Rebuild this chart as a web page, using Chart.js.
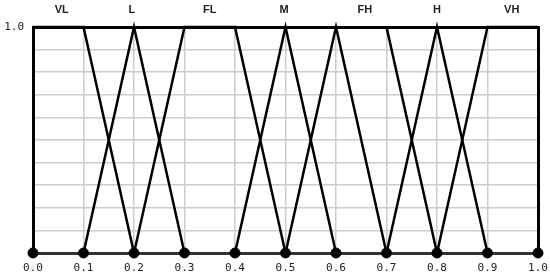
<!DOCTYPE html>
<html>
<head>
<meta charset="utf-8">
<script src="https://cdn.jsdelivr.net/npm/chart.js@4/dist/chart.umd.min.js"></script>
<style>
  html, body { margin: 0; padding: 0; background: #fff; }
  #wrap { width: 550px; height: 278px; }
</style>
</head>
<body>
<div id="wrap"><canvas id="canvas"></canvas></div>
<script>
// membership functions, x then y
var VL = [[0, 1], [0.1, 1], [0.2, 0]];
var L  = [[0.1, 0], [0.2, 1], [0.3, 0]];
var FL = [[0.2, 0], [0.3, 1], [0.4, 1], [0.5, 0]];
var M  = [[0.4, 0], [0.5, 1], [0.6, 0]];
var FH = [[0.5, 0], [0.6, 1], [0.7, 0]];
var FH2 = [[0.7, 1], [0.8, 0]];
var H  = [[0.7, 0], [0.8, 1], [0.9, 0]];
var VH = [[0.8, 0], [0.9, 1], [1, 1]];

var xTicks = [0, 0.1, 0.2, 0.3, 0.4, 0.5, 0.6, 0.7, 0.8, 0.9, 1];
var yTicks = [0, 0.1, 0.2, 0.3, 0.4, 0.5, 0.6, 0.7, 0.8, 0.9, 1];
var termNames = ['VL', 'L', 'FL', 'M', 'FH', 'H', 'VH'];
var termPos = [0.057, 0.196, 0.35, 0.497, 0.657, 0.8, 0.948];

function toPts(arr) {
    return arr.map(function(p) { return {x: p[0], y: p[1]}; });
}

function lineSet(arr) {
    return {
        data: toPts(arr),
        borderColor: '#000',
        borderWidth: 2.5,
        pointRadius: 0,
        fill: false,
        showLine: true,
        clip: false
    };
}

var datasets = [VL, L, FL, M, FH, FH2, H, VH].map(lineSet);

// dots along the axis
datasets.push({
    data: xTicks.map(function(v) { return {x: v, y: 0}; }),
    showLine: false,
    pointRadius: 5,
    pointBackgroundColor: '#000',
    pointBorderColor: '#000',
    clip: false
});

var tickFont = {family: 'DejaVu Sans Mono', size: 11};
var gridColor = '#cccccc';

// keep the plot area where the picture has it
function noPad(s) {
    s.paddingLeft = 0; s.paddingRight = 0;
    s.paddingTop = 0; s.paddingBottom = 0;
}

var ctx = document.getElementById('canvas');
var chart = new Chart(ctx, {
    type: 'scatter',
    data: {datasets: datasets},
    options: {
        responsive: true,
        maintainAspectRatio: false,
        animation: false,
        layout: {padding: 0},
        plugins: {legend: {display: false}, tooltip: {enabled: false}},
        scales: {
            x: {
                type: 'linear', position: 'bottom', min: 0, max: 1,
                afterBuildTicks: function(s) { s.ticks = xTicks.map(function(v) { return {value: v}; }); },
                afterFit: function(s) { s.height = 25; noPad(s); },
                ticks: {
                    font: tickFont, color: '#222', padding: 9, maxRotation: 0, autoSkip: false,
                    callback: function(v) { return v.toFixed(1); }
                },
                grid: {color: gridColor, lineWidth: 1.5, drawTicks: false},
                border: {color: '#333', width: 3}
            },
            x2: {
                type: 'linear', position: 'top', min: 0, max: 1,
                afterBuildTicks: function(s) { s.ticks = termPos.map(function(v) { return {value: v}; }); },
                afterFit: function(s) { s.height = 27; noPad(s); },
                ticks: {
                    font: {family: 'Liberation Sans', size: 11, weight: 'bold'}, color: '#222',
                    padding: 10, maxRotation: 0, autoSkip: false,
                    callback: function(v, i) { return termNames[i]; }
                },
                grid: {display: false, drawTicks: false},
                border: {color: '#000', width: 3}
            },
            y: {
                type: 'linear', position: 'left', min: 0, max: 1,
                afterBuildTicks: function(s) { s.ticks = yTicks.map(function(v) { return {value: v}; }); },
                afterFit: function(s) { s.width = 33; noPad(s); },
                ticks: {
                    font: tickFont, color: '#222', padding: 9, autoSkip: false,
                    callback: function(v) { return v === 1 ? '1.0' : ''; }
                },
                grid: {color: gridColor, lineWidth: 1.5, drawTicks: false},
                border: {color: '#000', width: 3}
            },
            y2: {
                type: 'linear', position: 'right', min: 0, max: 1,
                afterFit: function(s) { s.width = 12; noPad(s); },
                ticks: {display: false},
                grid: {display: false, drawTicks: false},
                border: {color: '#000', width: 3}
            }
        }
    }
});
</script>
</body>
</html>
